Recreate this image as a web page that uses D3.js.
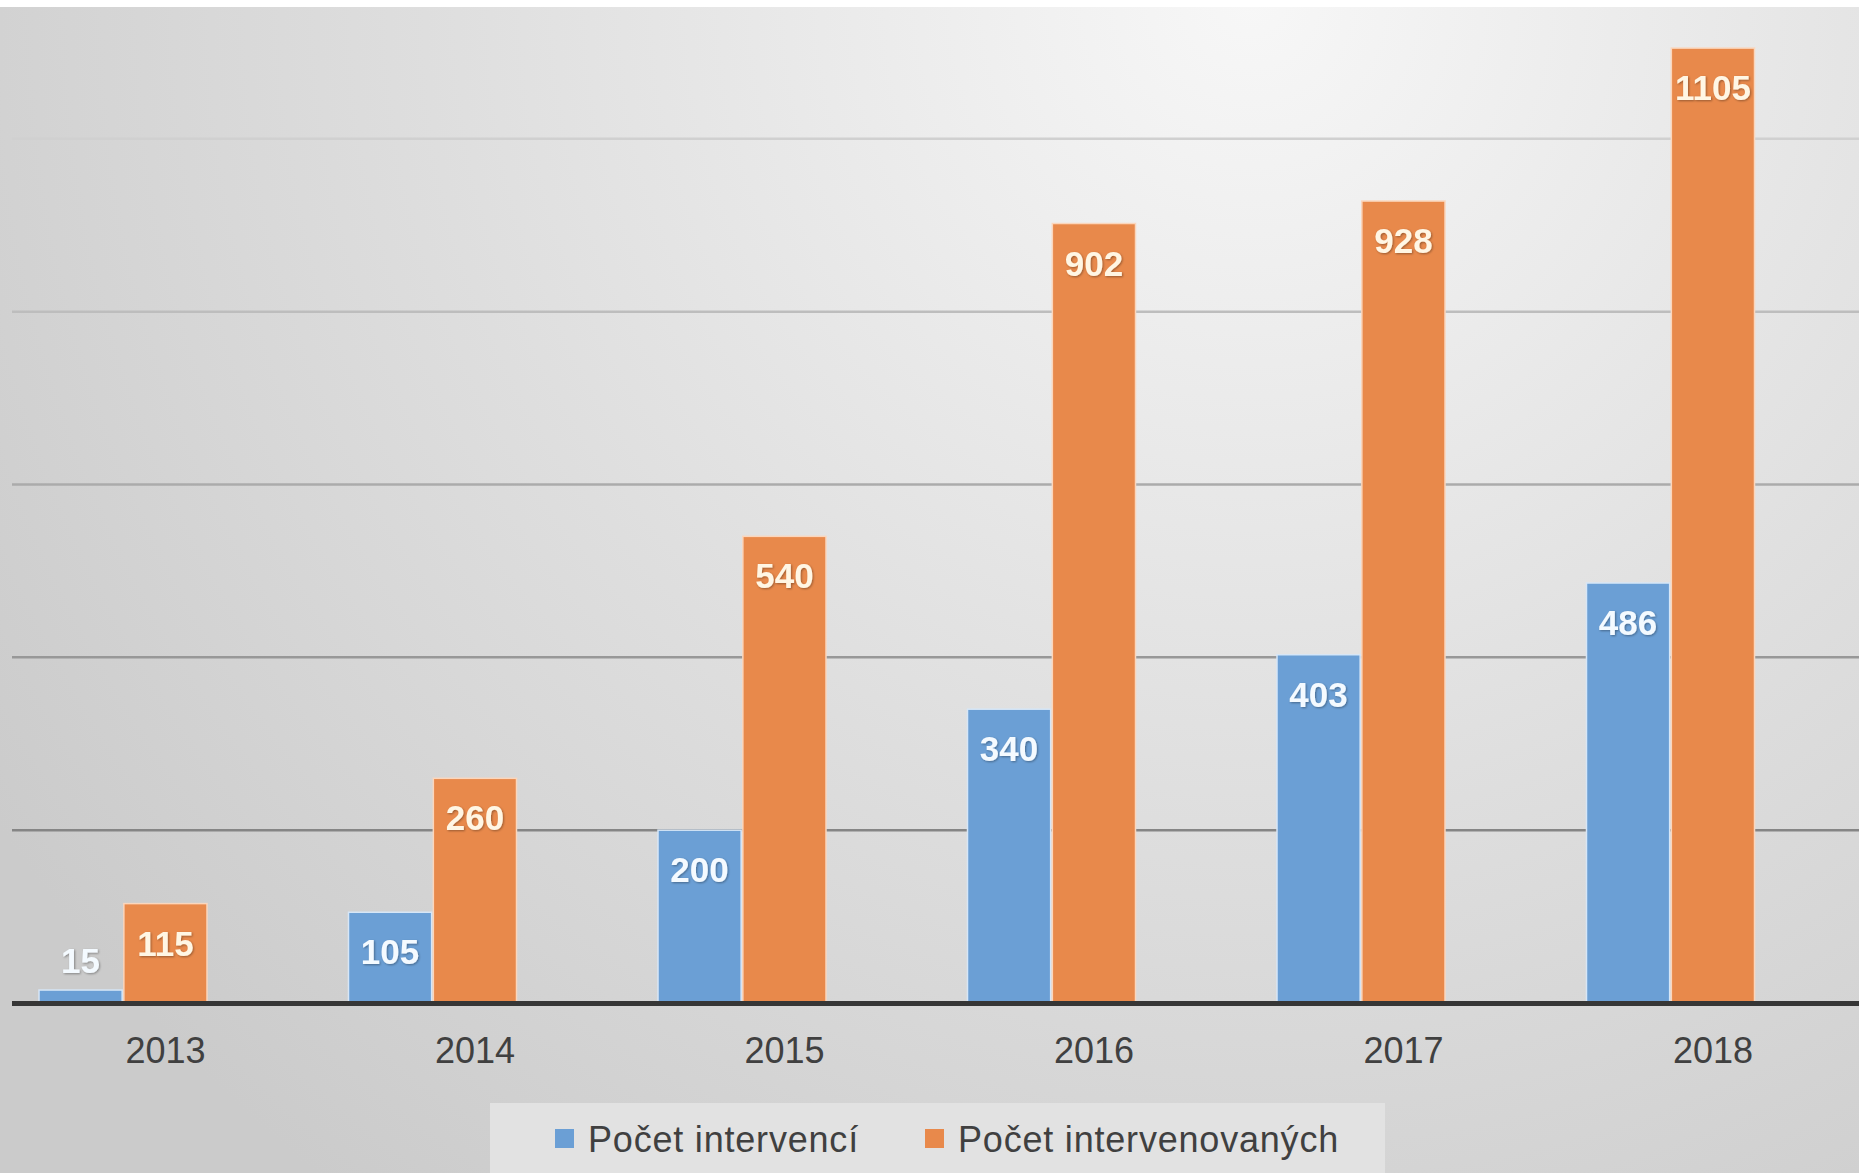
<!DOCTYPE html>
<html lang="cs">
	<head>
		<meta charset="utf-8">
		<title>Počet intervencí</title>
		<script type="text/javascript" src="https://cdn.jsdelivr.net/npm/d3@7"></script>
		<style type="text/css">
			body { margin: 0; background: #ffffff; }
			svg { display: block; }
		</style>
	</head>
	<body>
		<div id="chart"></div>
		<script type="text/javascript">

		var years = ["2013", "2014", "2015", "2016", "2017", "2018"];
		var seriesNames = ["Počet intervencí", "Počet intervenovaných"];
		var intervence = [15, 105, 200, 340, 403, 486];
		var intervenovani = [115, 260, 540, 902, 928, 1105];
		var gridValues = [200, 400, 600, 800, 1000];

		var W = 1859;
		var H = 1173;
		var colors = ["#6b9fd5", "#e8894b"];

		var svg = d3.select("#chart")
			.append("svg")
			.attr("width", W)
			.attr("height", H);

		// background gradient, light at the top, greyer toward edges
		var defs = svg.append("defs");
		var bg = defs.append("radialGradient")
			.attr("id", "bg")
			.attr("gradientUnits", "userSpaceOnUse")
			.attr("cx", 1250).attr("cy", 0).attr("r", 1500);
		bg.append("stop").attr("offset", "0%").attr("stop-color", "#f7f7f7");
		bg.append("stop").attr("offset", "55%").attr("stop-color", "#dedede");
		bg.append("stop").attr("offset", "100%").attr("stop-color", "#cbcbcb");

		var shadow = defs.append("filter").attr("id", "shadow")
			.attr("x", "-20%").attr("y", "-20%").attr("width", "140%").attr("height", "140%");
		shadow.append("feDropShadow")
			.attr("dx", 1).attr("dy", 1).attr("stdDeviation", 1.2)
			.attr("flood-color", "#000").attr("flood-opacity", 0.35);

		svg.append("rect").attr("x", 0).attr("y", 7).attr("width", W).attr("height", H - 7)
			.attr("fill", "url(#bg)");

		var y = d3.scaleLinear().domain([0, 1200]).range([1003, -34]);
		var x0 = d3.scaleBand().domain(years).range([-31.75, 1825.25]);
		var x1 = d3.scaleBand().domain(seriesNames)
			.range([x0.bandwidth() / 2 - 84, x0.bandwidth() / 2 + 84])
			.paddingInner(0.02);
		var gridColor = d3.scaleLinear().domain([1000, 200]).range(["#d0d0d0", "#858585"]);

		// gridlines
		svg.selectAll("line.grid")
			.data(gridValues)
			.enter()
			.append("line")
			.attr("class", "grid")
			.attr("x1", 12).attr("x2", W)
			.attr("y1", function (d) { return y(d); })
			.attr("y2", function (d) { return y(d); })
			.attr("stroke", function (d) { return gridColor(d); })
			.attr("stroke-width", 2.5);

		var rows = years.map(function (yr, i) {
			return { year: yr, values: [intervence[i], intervenovani[i]] };
		});

		var groups = svg.selectAll("g.year")
			.data(rows)
			.enter()
			.append("g")
			.attr("class", "year")
			.attr("transform", function (d) { return "translate(" + x0(d.year) + ",0)"; });

		groups.selectAll("rect")
			.data(function (d) { return d.values; })
			.enter()
			.append("rect")
			.attr("x", function (d, i) { return x1(seriesNames[i]); })
			.attr("y", function (d) { return y(d); })
			.attr("width", x1.bandwidth())
			.attr("height", function (d) { return y(0) - y(d); })
			.attr("fill", function (d, i) { return colors[i]; })
			.attr("stroke", function (d, i) { return i == 0 ? "#d6e6f7" : "#fbd6bc"; })
			.attr("stroke-width", 1.5);

		// value labels, inside the bar top, above it when the bar is too short
		groups.selectAll("text.val")
			.data(function (d) { return d.values; })
			.enter()
			.append("text")
			.attr("class", "val")
			.attr("x", function (d, i) { return x1(seriesNames[i]) + x1.bandwidth() / 2; })
			.attr("y", function (d) {
				return (y(0) - y(d) < 60) ? y(d) - 17 : y(d) + 52;
			})
			.attr("text-anchor", "middle")
			.attr("font-family", "'Liberation Sans', Arial, sans-serif")
			.attr("font-weight", "bold")
			.attr("font-size", 35)
			.attr("fill", function (d, i) { return i == 0 ? "#f4faff" : "#fff6e4"; })
			.attr("filter", "url(#shadow)")
			.text(function (d) { return d; });

		// axis line
		svg.append("line")
			.attr("x1", 12).attr("x2", W)
			.attr("y1", y(0) + 0.5).attr("y2", y(0) + 0.5)
			.attr("stroke", "#363636")
			.attr("stroke-width", 5);

		// year labels sit under the second bar
		groups.append("text")
			.attr("x", x1(seriesNames[1]) + x1.bandwidth() / 2)
			.attr("y", 1063)
			.attr("text-anchor", "middle")
			.attr("font-family", "'Liberation Sans', Arial, sans-serif")
			.attr("font-size", 36)
			.attr("fill", "#404040")
			.text(function (d) { return d.year; });

		// legend
		var legend = svg.append("g");
		legend.append("rect")
			.attr("x", 490).attr("y", 1103).attr("width", 895).attr("height", 70)
			.attr("fill", "#e2e2e2");
		var legendX = [555, 925];
		seriesNames.forEach(function (name, i) {
			legend.append("rect")
				.attr("x", legendX[i]).attr("y", 1129)
				.attr("width", 19).attr("height", 19)
				.attr("fill", colors[i]);
			legend.append("text")
				.attr("x", legendX[i] + 33)
				.attr("y", 1152)
				.attr("font-family", "'Liberation Sans', Arial, sans-serif")
				.attr("font-size", 36)
				.attr("letter-spacing", 0.8)
				.attr("fill", "#404040")
				.text(name);
		});

		</script>
	</body>
</html>
